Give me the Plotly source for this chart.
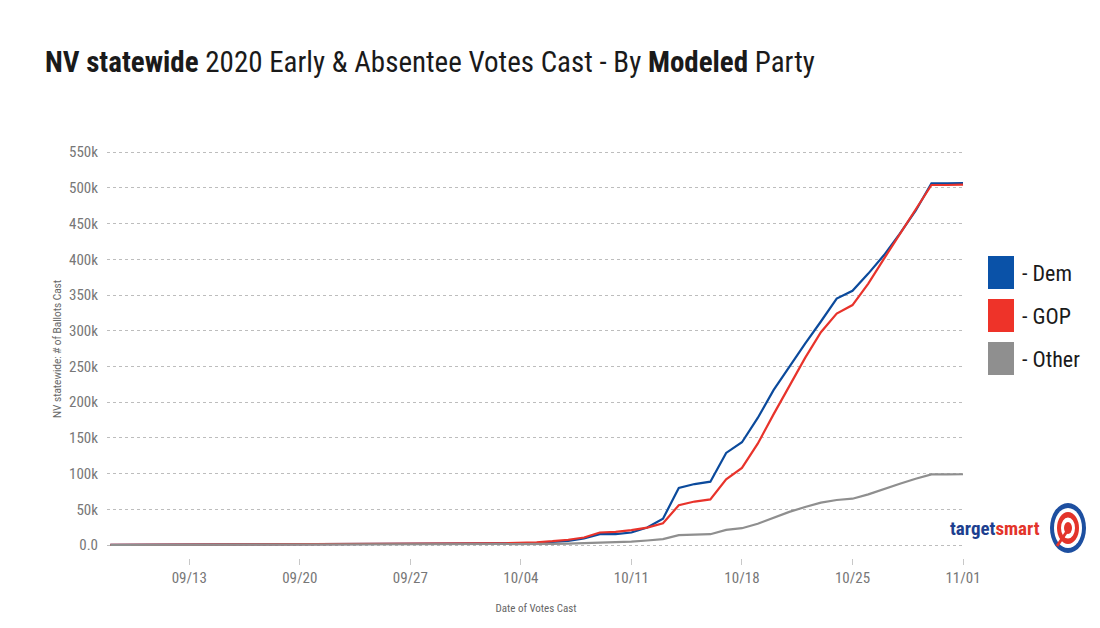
import plotly.graph_objects as go

dates = [
    "2020-09-08", "2020-09-09", "2020-09-10", "2020-09-11", "2020-09-12", "2020-09-13", "2020-09-14",
    "2020-09-15", "2020-09-16", "2020-09-17", "2020-09-18", "2020-09-19", "2020-09-20", "2020-09-21",
    "2020-09-22", "2020-09-23", "2020-09-24", "2020-09-25", "2020-09-26", "2020-09-27", "2020-09-28",
    "2020-09-29", "2020-09-30", "2020-10-01", "2020-10-02", "2020-10-03", "2020-10-04", "2020-10-05",
    "2020-10-06", "2020-10-07", "2020-10-08", "2020-10-09", "2020-10-10", "2020-10-11", "2020-10-12",
    "2020-10-13", "2020-10-14", "2020-10-15", "2020-10-16", "2020-10-17", "2020-10-18", "2020-10-19",
    "2020-10-20", "2020-10-21", "2020-10-22", "2020-10-23", "2020-10-24", "2020-10-25", "2020-10-26",
    "2020-10-27", "2020-10-28", "2020-10-29", "2020-10-30", "2020-10-31", "2020-11-01",
]

dem = [
    300, 350, 400, 450, 500, 550, 600,
    650, 700, 750, 800, 850, 900, 950,
    1000, 1050, 1100, 1150, 1200, 1250, 1300,
    1400, 1500, 1700, 1900, 2100, 2400, 3000,
    4000, 6000, 9300, 15300, 15500, 17700, 24600,
    37000, 80000, 85500, 88800, 129000, 144000, 178000,
    217000, 250000, 282000, 313000, 345000, 356000, 380000,
    406000, 436000, 468000, 506500, 506500, 506800,
]

gop = [
    400, 450, 500, 560, 620, 680, 740,
    800, 860, 920, 980, 1040, 1100, 1160,
    1220, 1280, 1350, 1420, 1500, 1580, 1660,
    1760, 1880, 2100, 2350, 2650, 3000, 4000,
    5500, 7500, 10700, 17700, 18600, 21000, 24600,
    30700, 55800, 61000, 64000, 92000, 108000, 142000,
    183000, 222000, 262000, 298000, 324000, 336000, 366000,
    401000, 435000, 470000, 504000, 504000, 504500,
]

other = [
    200, 220, 240, 260, 280, 300, 320,
    340, 360, 380, 400, 420, 440, 460,
    480, 500, 530, 560, 590, 620, 650,
    700, 750, 820, 900, 1000, 1200, 1400,
    1700, 2000, 2500, 3200, 3800, 5000, 6500,
    8400, 14000, 14700, 15300, 21400, 23700, 30000,
    38600, 46500, 53400, 59500, 63200, 65000, 71000,
    79000, 86000, 93000, 99000, 99000, 99200,
]

series_names = ["- Dem", "- GOP", "- Other"]
series_colors = ["#0b4a9c", "#e8332b", "#8f8f8f"]
legend_colors = ["#0a52a8", "#ee3329", "#8f8f8f"]

y_tick_vals = [0, 50000, 100000, 150000, 200000, 250000, 300000, 350000, 400000, 450000, 500000, 550000]
y_tick_text = ["0.0", "50k", "100k", "150k", "200k", "250k", "300k", "350k", "400k", "450k", "500k", "550k"]

COND = "Liberation Sans Narrow, Arial Narrow, Roboto Condensed, sans-serif"

L, R, T, B = 107, 135, 140, 70
PW, PH = 1100 - L - R, 628 - T - B

def px(x):
    return (x - L) / PW

def py(y):
    return (628 - B - y) / PH

fig = go.Figure()
for name, vals, col in zip(series_names, [dem, gop, other], series_colors):
    fig.add_trace(go.Scatter(x=dates, y=vals, mode="lines", name=name,
                             line=dict(color=col, width=2.2), showlegend=False))

fig.update_layout(
    width=1100, height=628,
    paper_bgcolor="white", plot_bgcolor="white",
    margin=dict(l=L, r=R, t=T, b=B, autoexpand=False),
    title=dict(
        text="<b>NV statewide</b> 2020 Early &amp; Absentee Votes Cast - By <b>Modeled</b> Party",
        x=45 / 1100, xref="container", xanchor="left", y=1 - 62 / 628, yref="container", yanchor="middle",
        font=dict(family=COND, size=29, color="#1a1a1a"),
    ),
    xaxis=dict(
        type="date", automargin=False,
        range=["2020-09-07 19:00", "2020-11-01 03:00"],
        tick0="2020-09-13", dtick=7 * 24 * 3600 * 1000, tickformat="%m/%d",
        showgrid=False, zeroline=False, showline=False,
        ticks="outside", ticklen=6, tickcolor="#c8c8c8", tickwidth=1,
        tickfont=dict(family=COND, size=15, color="#777777"),
        title=dict(text="Date of Votes Cast", font=dict(family=COND, size=11, color="#666666"), standoff=18),
    ),
    yaxis=dict(
        range=[-18000, 567000], automargin=False,
        tickvals=y_tick_vals, ticktext=y_tick_text,
        showgrid=True, gridcolor="#bdbdbd", griddash="dot", gridwidth=1.3,
        zeroline=False, showline=False, ticks="",
        ticklabelstandoff=8,
        tickfont=dict(family=COND, size=15, color="#777777"),
        title=dict(text="NV statewide: # of Ballots Cast", font=dict(family="Roboto, sans-serif", size=10, color="#666666"), standoff=5),
    ),
)

# custom legend (square swatches)
legend_top = [256, 299, 342]
for i, (name, col) in enumerate(zip(series_names, legend_colors)):
    fig.add_shape(type="rect", xref="paper", yref="paper", layer="above",
                  x0=px(988), x1=px(1014), y0=py(legend_top[i] + 33), y1=py(legend_top[i]),
                  fillcolor=col, line=dict(width=0))
    fig.add_annotation(xref="paper", yref="paper", x=px(1020), y=py(legend_top[i] + 17),
                       text=name, showarrow=False, xanchor="left", yanchor="middle",
                       font=dict(family=COND, size=22, color="#1a1a1a"))

# targetsmart logo
fig.add_annotation(xref="paper", yref="paper", x=px(1042), y=py(528),
                   text="<b><span style='color:#1d3f8f'>target</span><span style='color:#e3342a'>smart</span></b>",
                   showarrow=False, xanchor="right", yanchor="middle",
                   font=dict(family=COND, size=19))

def ell(cx, cy, rx, ry, color):
    fig.add_shape(type="circle", xref="paper", yref="paper", layer="above",
                  x0=px(cx - rx), x1=px(cx + rx), y0=py(cy + ry), y1=py(cy - ry),
                  fillcolor=color, line=dict(width=0))

ell(1068, 528, 18, 25, "#1d4fa0")
ell(1068, 528, 14, 20, "white")
ell(1068, 528, 11, 16, "#e3342a")
ell(1068, 528, 7, 10.5, "white")
ell(1068, 528, 4, 6, "#e3342a")
fig.add_shape(type="line", xref="paper", yref="paper", layer="above",
              x0=px(1057), x1=px(1070), y0=py(546), y1=py(527),
              line=dict(color="#e3342a", width=3))

fig.write_html("out.html", config={"displayModeBar": False},
               post_script="document.body.style.margin='0';document.body.style.overflow='hidden';")
